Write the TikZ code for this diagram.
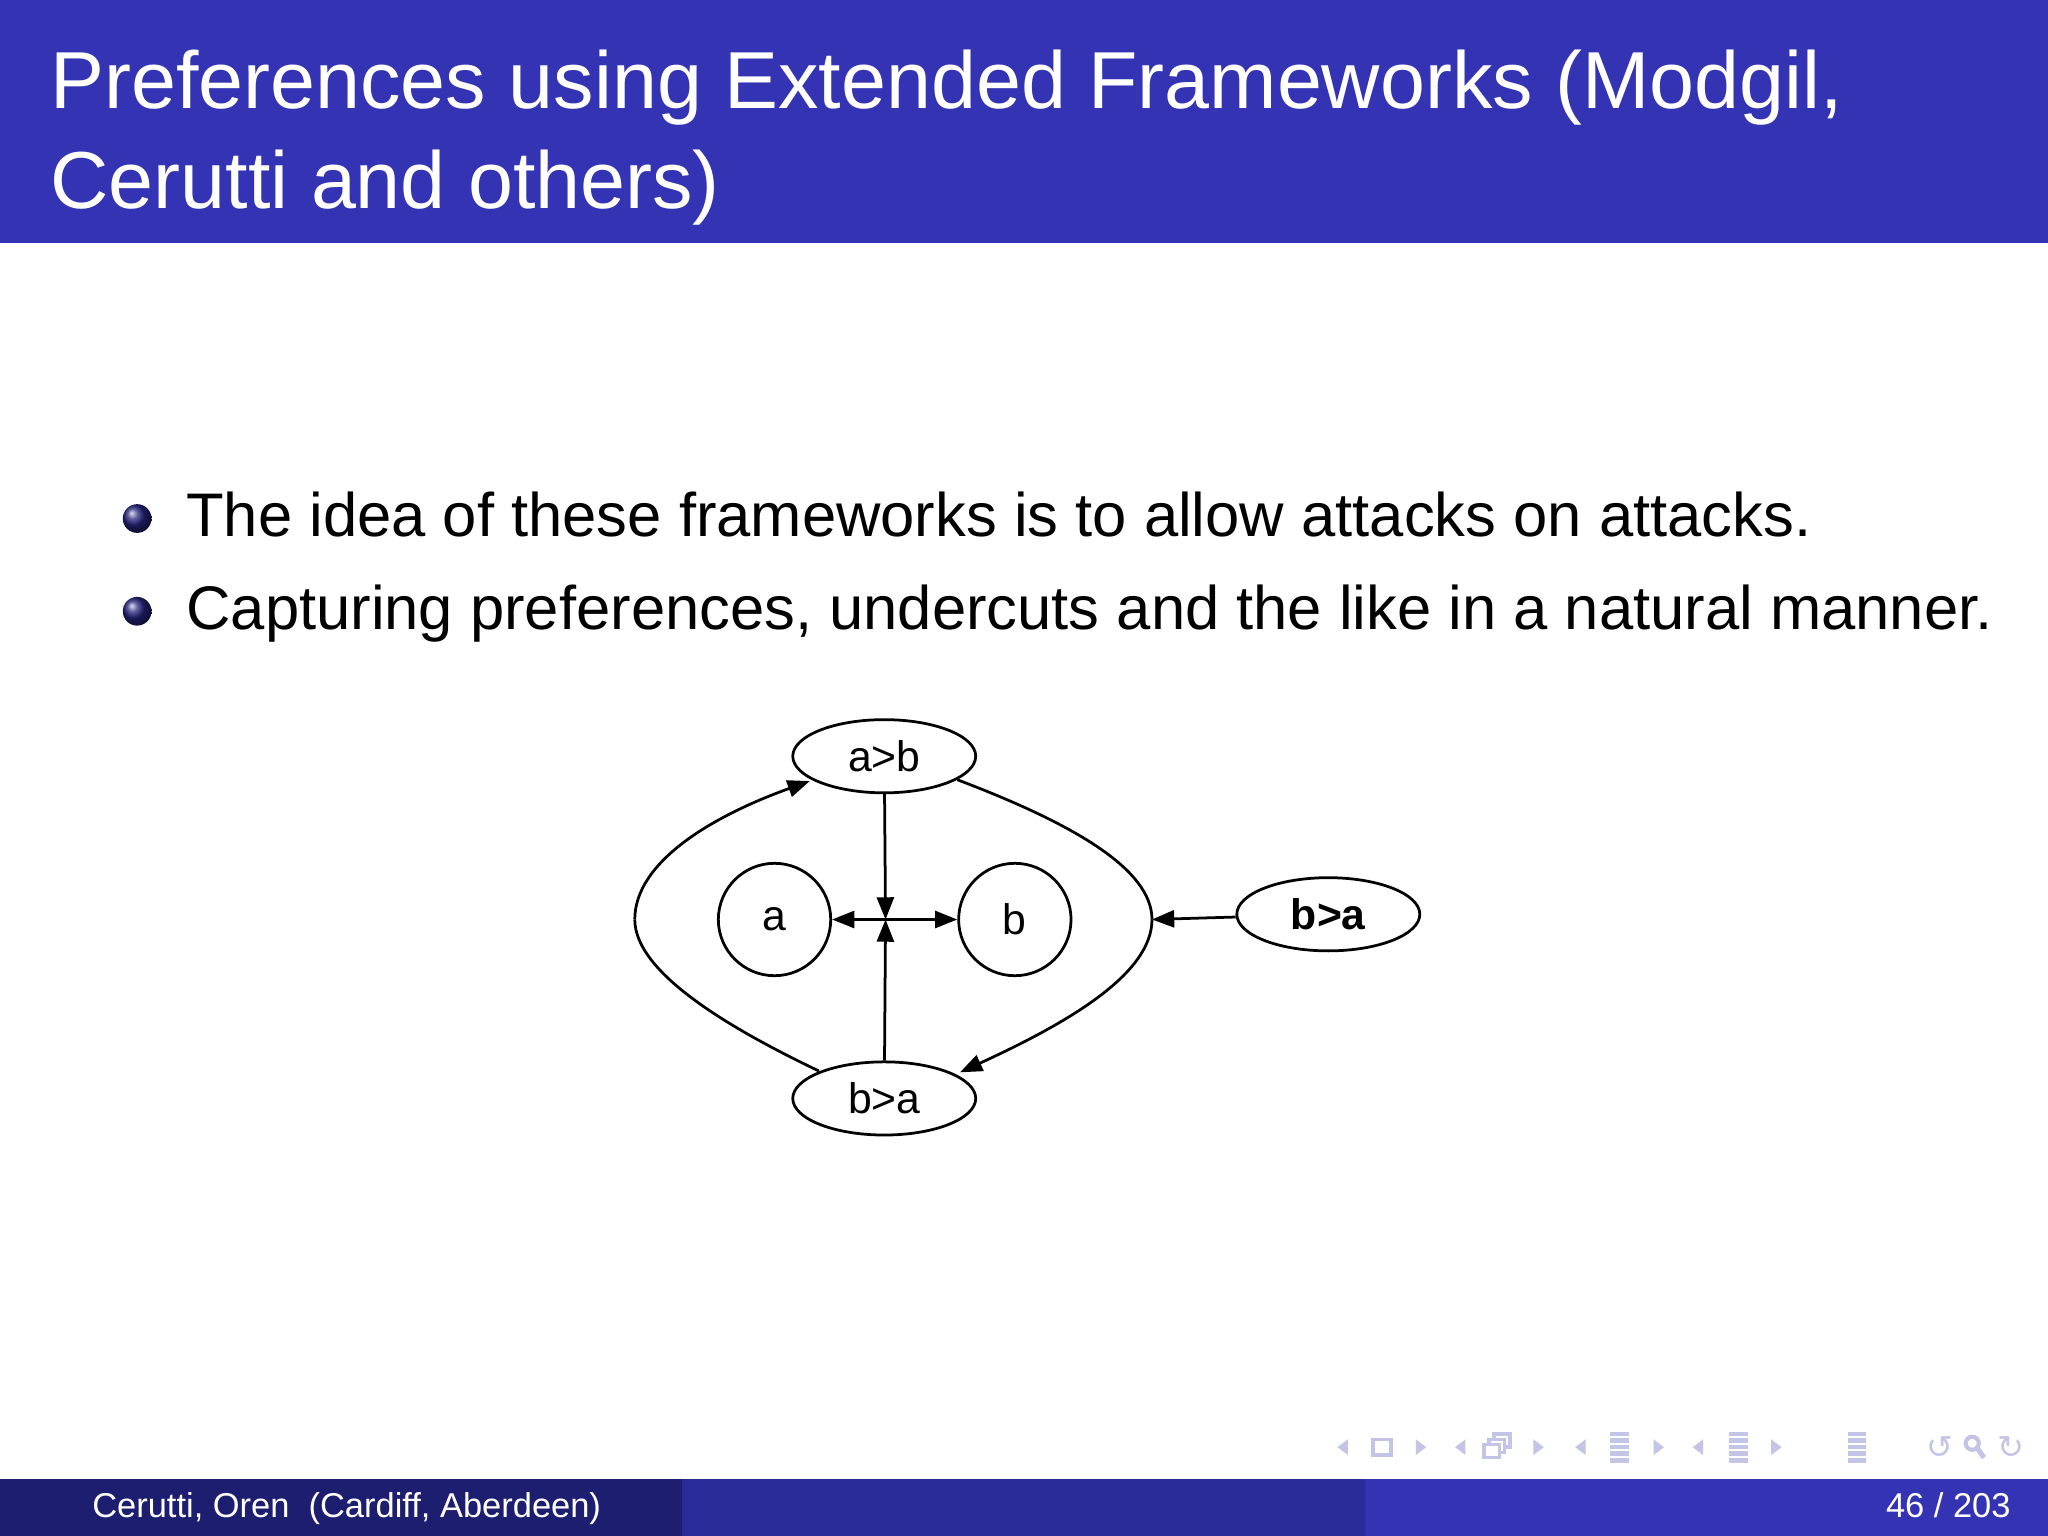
\documentclass[tikz,border=0pt]{standalone}
\usepackage{fontspec}
\setmainfont{Liberation Sans}
\newfontfamily\dvs{DejaVu Sans}
\usetikzlibrary{shapes.geometric,arrows.meta}
\definecolor{bbar}{HTML}{3333B3}
\definecolor{bmid}{HTML}{2A2A99}
\definecolor{bdark}{HTML}{1E1E70}
\definecolor{navc}{HTML}{C4C4E6}
\begin{document}
\begin{tikzpicture}[x=0.01cm,y=-0.01cm,
  oval/.style={draw,line width=0.6pt,ellipse,minimum width=1.4cm,minimum height=0.56cm,inner sep=0pt,font=\fontsize{9.3}{10}\selectfont},
  circ/.style={draw,line width=0.6pt,circle,minimum size=0.86cm,inner sep=0pt,font=\fontsize{9.3}{10}\selectfont},
  att/.style={line width=0.6pt,-{Triangle[length=0.17cm,width=0.13cm]}},
  navi/.style={text=navc,inner sep=0pt,font=\dvs\fontsize{7}{7}\selectfont},
  navt/.style={fill=navc}]
\useasboundingbox (0,0) rectangle (1568,1176);
\fill[white] (0,0) rectangle (1568,1176);
% title bar
\fill[bbar] (0,0) rectangle (1568,186);
\node[anchor=base west,text=white,font=\fontsize{17.6}{20}\selectfont,inner sep=0pt] (t1) at (38,83) {Preferences using Extended Frameworks (Modgil,};
\node[anchor=base west,text=white,font=\fontsize{17.6}{20}\selectfont,inner sep=0pt] (t2) at (38,160) {Cerutti and others)};
% bullets
\shade[ball color=bbar!70!black] (105,397) circle (11);
\shade[ball color=bbar!70!black] (105,468) circle (11);
\node[anchor=base west,inner sep=0pt,font=\fontsize{13.4}{14}\selectfont] (b1) at (142,411) {The idea of these frameworks is to allow attacks on attacks.};
\node[anchor=base west,inner sep=0pt,font=\fontsize{13.4}{14}\selectfont] (b2) at (142,482) {Capturing preferences, undercuts and the like in a natural manner.};
% diagram
\node[oval] (ab) at (677,579) {a>b};
\node[oval] (ba) at (677,841) {b>a};
\node[oval,font=\fontsize{9.3}{10}\selectfont\bfseries] (bar) at (1017,700) {b>a};
\node[circ] (a) at (593,704) {a};
\node[circ] (b) at (777,704) {b};
\coordinate (j) at (678,704);
\coordinate (rc) at (882,704);
\coordinate (lc) at (486,704);
\draw[att] (ab) -- (j);
\draw[att] (ba) -- (j);
\draw[att] (j) -- (a);
\draw[att] (j) -- (b);
\draw[att] (bar) -- (rc);
\draw[line width=0.6pt] (733,597) .. controls (820,630) and (882,665) .. (rc);
\draw[att] (rc) .. controls (882,745) and (820,782) .. (735,821);
\draw[line width=0.6pt] (627,820) .. controls (560,788) and (486,745) .. (lc);
\draw[att] (lc) .. controls (486,660) and (545,625) .. (620,598);
% navigation symbols
\foreach \x in {1028,1118,1210,1300}{\fill[navc] (\x+4,1102) -- (\x-4,1108) -- (\x+4,1114) -- cycle;}
\foreach \x in {1088,1178,1270,1360}{\fill[navc] (\x-4,1102) -- (\x+4,1108) -- (\x-4,1114) -- cycle;}
\draw[navc,line width=0.8pt] (1051,1102) rectangle (1065,1114);
\draw[navc,line width=0.8pt,fill=white] (1144,1098) rectangle (1156,1108);
\draw[navc,line width=0.8pt,fill=white] (1140,1102) rectangle (1152,1112);
\draw[navc,line width=0.8pt,fill=white] (1136,1106) rectangle (1148,1116);
\foreach \x in {1240,1331,1422}{\foreach \yy in {1098,1103,1108,1113,1118}{\draw[navc,line width=1pt] (\x-7,\yy) -- (\x+7,\yy);}}
\node[navi] (n1) at (1485,1108) {↺};
\draw[navc,line width=0.9pt] (1510,1105) circle (5);
\draw[navc,line width=1.1pt] (1514,1109) -- (1519,1116);
\node[navi] (n2) at (1540,1108) {↻};
% footer
\fill[bdark] (0,1132) rectangle (522,1176);
\fill[bmid] (522,1132) rectangle (1045,1176);
\fill[bbar] (1045,1132) rectangle (1568,1176);
\node[anchor=base west,text=white,inner sep=0pt,font=\fontsize{7.5}{9}\selectfont] (f1) at (70,1162) {Cerutti, Oren\ \ (Cardiff, Aberdeen)};
\node[anchor=base east,text=white,inner sep=0pt,font=\fontsize{7.5}{9}\selectfont] (f2) at (1540,1162) {46 / 203};
\end{tikzpicture}
\end{document}
